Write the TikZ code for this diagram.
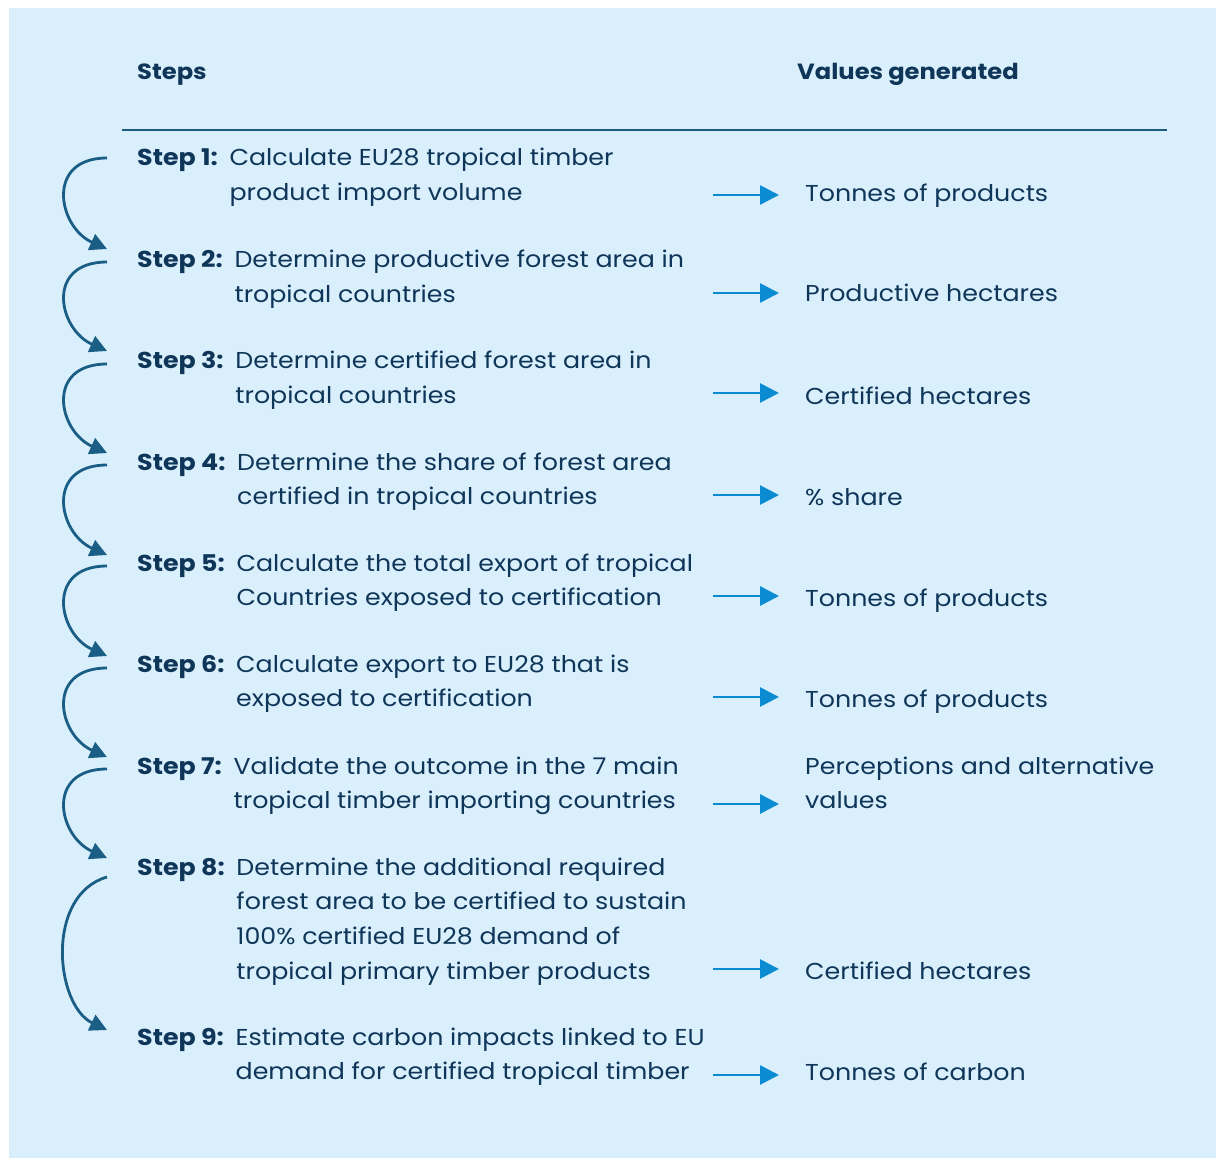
\documentclass[tikz,border=0pt]{standalone}
\usepackage{fontspec}
\setmainfont{Poppins}[FakeStretch=1.1]
\usetikzlibrary{arrows.meta}
\definecolor{bgblue}{HTML}{D9EFFC}
\definecolor{txtnavy}{HTML}{0F3659}
\definecolor{curvcol}{HTML}{1B5E85}
\definecolor{arrcol}{HTML}{0A8BD2}
\definecolor{rulecol}{HTML}{1D5C80}
\tikzset{
  stepnode/.style={anchor=base west, inner sep=0pt, text=txtnavy, font=\fontsize{23}{34.8}\selectfont},
  valnode/.style={anchor=base west, inner sep=0pt, text=txtnavy, font=\fontsize{23}{34.8}\selectfont},
  headnode/.style={anchor=base west, inner sep=0pt, text=txtnavy, font=\fontsize{22}{34.8}\selectfont\bfseries},
  curvarrow/.style={draw=curvcol, line width=2.8pt, -{Triangle[length=17pt,width=17pt]}},
  valarrow/.style={draw=arrcol, line width=2.8pt, -{Triangle[length=19pt,width=19pt]}},
}
\newcommand{\stp}[2]{\textbf{Step #1:}~\hspace{5pt}\begin{tabular}[t]{@{}l@{}}#2\end{tabular}}
\newcommand{\vls}[1]{\begin{tabular}[t]{@{}l@{}}#1\end{tabular}}
\begin{document}
\begin{tikzpicture}[x=1pt,y=-1pt]
\useasboundingbox (0,0) rectangle (1216,1158);
\fill[white] (0,0) rectangle (1216,1158);
\fill[bgblue] (9,8) rectangle (1216,1158);
% headers
\node[headnode] (hs) at (137,80) {Steps};
\node[headnode] (hv) at (797,80) {Values generated};
\coordinate (rl) at (122,130);
\coordinate (rr) at (1167,130);
\draw[rulecol, line width=2.6pt] (rl) -- (rr);
% steps
\node[stepnode] (s1) at (137,166) {\stp{1}{Calculate EU28 tropical timber\\product import volume}};
\node[stepnode] (s2) at (137,268) {\stp{2}{Determine productive forest area in\\tropical countries}};
\node[stepnode] (s3) at (137,369) {\stp{3}{Determine certified forest area in\\tropical countries}};
\node[stepnode] (s4) at (137,470) {\stp{4}{Determine the share of forest area\\certified in tropical countries}};
\node[stepnode] (s5) at (137,571) {\stp{5}{Calculate the total export of tropical\\Countries exposed to certification}};
\node[stepnode] (s6) at (137,672) {\stp{6}{Calculate export to EU28 that is\\exposed to certification}};
\node[stepnode] (s7) at (137,774) {\stp{7}{Validate the outcome in the 7 main\\tropical timber importing countries}};
\node[stepnode] (s8) at (137,875) {\stp{8}{Determine the additional required\\forest area to be certified to sustain\\100\% certified EU28 demand of\\tropical primary timber products}};
\node[stepnode] (s9) at (137,1045) {\stp{9}{Estimate carbon impacts linked to EU\\demand for certified tropical timber}};
% values
\node[valnode] (v1) at (805,202) {Tonnes of products};
\node[valnode] (v2) at (805,302) {Productive hectares};
\node[valnode] (v3) at (805,404) {Certified hectares};
\node[valnode] (v4) at (805,505) {\% share};
\node[valnode] (v5) at (805,606) {Tonnes of products};
\node[valnode] (v6) at (805,707) {Tonnes of products};
\node[valnode] (v7) at (805,774) {\vls{Perceptions and alternative\\values}};
\node[valnode] (v8) at (805,979) {Certified hectares};
\node[valnode] (v9) at (805,1080) {Tonnes of carbon};
% value arrows
\foreach \i/\y in {1/195,2/293,3/393,4/495,5/596,6/697,7/804,8/969,9/1075}{
  \coordinate (ra\i) at (713,\y);
  \coordinate (rb\i) at (779,\y);
  \draw[valarrow] (ra\i) -- (rb\i);
}
% curved arrows between steps
\foreach \i/\ys/\ye in {1/158/249,2/262/351,3/364/453,4/465/555,5/566/656,6/668/757,7/769/858}{
  \coordinate (cs\i) at (107,\ys);
  \coordinate (ce\i) at (107,\ye);
  \draw[curvarrow] (cs\i) .. controls (45,\ys) and (58,\ye-22) .. (ce\i);
}
\coordinate (cs8) at (107,877);
\coordinate (ce8) at (107,1030);
\draw[curvarrow] (cs8) .. controls (45,895) and (55,1005) .. (ce8);
\end{tikzpicture}
\end{document}
